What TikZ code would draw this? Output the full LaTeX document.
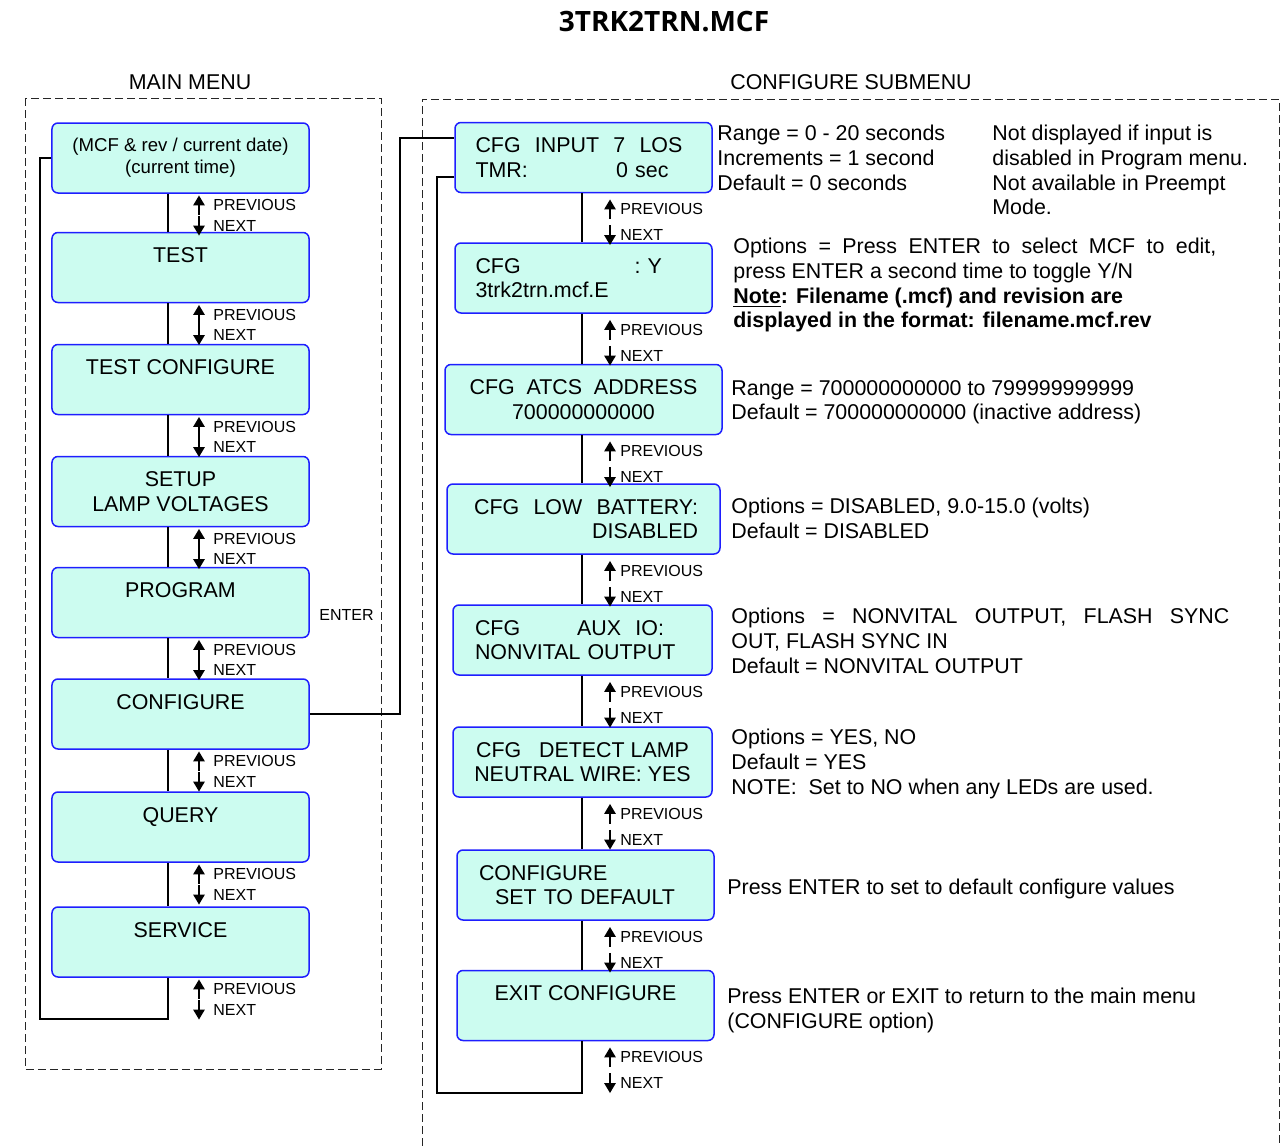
\documentclass[tikz,border=0pt]{standalone}
\usepackage{fontspec}
\setmainfont{Liberation Sans}
\newfontfamily\titlefont{Open Sans}
\usepackage{xcolor}
\usepackage{tikz}
\usetikzlibrary{positioning,calc,arrows.meta}
\definecolor{boxfill}{RGB}{204,252,240}
\definecolor{boxline}{RGB}{30,30,255}

\begin{document}
\begin{tikzpicture}[x=50pt,y=-50pt,font=\fontsize{10.7}{12.3}\selectfont,
 mb/.style={draw=boxline,fill=boxfill,line width=0.75pt,rounded corners=3pt,minimum width=128.5pt,minimum height=35pt,inner sep=0pt,align=center},
 cb/.style={mb},
 ln/.style={line width=0.65pt},
 nv/.style={font=\fontsize{8}{9.6}\selectfont,inner sep=0pt,minimum height=9.5pt,anchor=west},
 ud/.style={line width=1.2pt,-{Triangle[length=5pt,width=5.5pt]}},
 fr/.style={black!85,line width=0.5pt,dash pattern=on 4pt off 2pt},
 nt/.style={anchor=north west,inner sep=0pt,align=left}]
\useasboundingbox (0,0) rectangle (12.81,11.46);
\coordinate (mloop) at (0.40,10.19);
\coordinate (mbot) at (1.68,10.19);
\coordinate (cin) at (4.00,1.38);
\coordinate (cup) at (4.37,1.77);
\coordinate (cloop) at (4.37,10.93);
\coordinate (cbot) at (5.82,10.93);
\node[font=\titlefont\bfseries\fontsize{14}{16}\selectfont] (ttl) at (6.64,0.22) {3TRK2TRN.MCF};
\node (mm) at (1.90,0.82) {MAIN MENU};
\node (cs) at (8.51,0.82) {CONFIGURE SUBMENU};
\draw[fr] (0.25,0.98) rectangle (3.81,10.69);
\draw[fr] (4.22,11.46) -- (4.22,0.99) -- (12.79,0.99) -- (12.79,11.46);
\node[mb,font=\fontsize{9.3}{11}\selectfont] (m1) at (1.805,1.58) {(MCF \& rev / current date)\\(current time)};
\node[mb] (m2) at (1.805,2.675) {TEST\\\mbox{}};
\node[mb] (m3) at (1.805,3.795) {TEST CONFIGURE\\\mbox{}};
\node[mb] (m4) at (1.805,4.915) {SETUP\\LAMP VOLTAGES};
\node[mb] (m5) at (1.805,6.025) {PROGRAM\\\mbox{}};
\node[mb] (m6) at (1.805,7.14) {CONFIGURE\\\mbox{}};
\node[mb] (m7) at (1.805,8.27) {QUERY\\\mbox{}};
\node[mb] (m8) at (1.805,9.42) {SERVICE\\\mbox{}};
\node[cb,text width=108pt,align=left] (c1) at (5.835,1.575) {CFG\ \ INPUT\ \ 7\ \ LOS\\TMR:\hfill 0 sec\kern11.5pt};
\node[cb,text width=108pt,align=left] (c2) at (5.835,2.78) {CFG\hfill : Y\kern14.75pt\\3trk2trn.mcf.E};
\node[cb,minimum width=138.5pt] (c3) at (5.835,3.995) {CFG\ \ ATCS\ \ ADDRESS\\700000000000};
\node[cb,minimum width=136.5pt,text width=114.5pt,align=right] (c4) at (5.835,5.19) {CFG\ \ LOW\ \ BATTERY:\\DISABLED};
\node[cb,minimum width=129.5pt,text width=107.5pt,align=left] (c5) at (5.825,6.40) {CFG\hfill AUX\ \ IO:\kern13pt\\NONVITAL OUTPUT};
\node[cb,minimum width=129.5pt] (c6) at (5.825,7.62) {CFG\ \ \ DETECT LAMP\\NEUTRAL WIRE: YES};
\node[cb,text width=106.5pt,align=left] (c7) at (5.855,8.85) {CONFIGURE\\\hspace*{8pt}SET TO DEFAULT};
\node[cb] (c8) at (5.855,10.055) {EXIT CONFIGURE\\\mbox{}};
\foreach \a/\b in {m1/m2,m2/m3,m3/m4,m4/m5,m5/m6,m6/m7,m7/m8}
  \draw[ln] (\a.south -| mbot) -- (\b.north -| mbot);
\foreach \a/\b in {c1/c2,c2/c3,c3/c4,c4/c5,c5/c6,c6/c7,c7/c8}
  \draw[ln] (\a.south -| cbot) -- (\b.north -| cbot);
\foreach \i in {1,...,8}{
  \node[nv] (mp\i) at ($(m\i.south)+(0.325,0.115)$) {PREVIOUS};
  \node[nv] (mn\i) at ($(m\i.south)+(0.325,0.32)$) {NEXT};
  \draw[ud] ([xshift=-7pt]mp\i.south west) -- ([xshift=-7pt]mp\i.north west);
  \draw[ud] ([xshift=-7pt]mn\i.north west) -- ([xshift=-7pt]mn\i.south west);
  \node[nv] (cp\i) at ($(c\i.south -| cbot)+(0.38,0.16)$) {PREVIOUS};
  \node[nv] (cn\i) at ($(c\i.south -| cbot)+(0.38,0.42)$) {NEXT};
  \draw[ud] ([xshift=-5pt]cp\i.south west) -- ([xshift=-5pt]cp\i.north west);
  \draw[ud] ([xshift=-5pt]cn\i.north west) -- ([xshift=-5pt]cn\i.south west);
}
\draw[ln] (m1.west) -| (mloop) -- (mbot) -- (m8.south -| mbot);
\draw[ln] (m6.east) -| (cin) -- (cin -| c1.west);
\draw[ln] (cup -| c1.west) -- (cup) -- (cloop) -- (cbot) -- (c8.south -| cbot);
\node[nv] (ent) at (3.19,6.15) {ENTER};
\node[nt] (n1) at (7.17,1.25) {Range = 0 - 20 seconds\\Increments = 1 second\\Default = 0 seconds};
\node[nt] (n1b) at (9.92,1.25) {Not displayed if input is\\disabled in Program menu.\\Not available in Preempt\\Mode.};
\node[nt] (n2) at (7.33,2.38) {\makebox[241.5pt][s]{Options = Press ENTER to select MCF to edit,}\\press ENTER a second time to toggle Y/N\\\textbf{\underline{Note}: Filename (.mcf) and revision are}\\\textbf{displayed in the format: filename.mcf.rev}};
\node[nt] (n3) at (7.31,3.80) {Range = 700000000000 to 799999999999\\Default = 700000000000 (inactive address)};
\node[nt] (n4) at (7.31,4.98) {Options = DISABLED, 9.0-15.0 (volts)\\Default = DISABLED};
\node[nt] (n5) at (7.31,6.08) {\makebox[249pt][s]{Options = NONVITAL OUTPUT, FLASH SYNC}\\OUT, FLASH SYNC IN\\Default = NONVITAL OUTPUT};
\node[nt] (n6) at (7.31,7.29) {Options = YES, NO\\Default = YES\\NOTE:\ \ Set to NO when any LEDs are used.};
\node[nt] (n7) at (7.27,8.79) {Press ENTER to set to default configure values};
\node[nt] (n8) at (7.27,9.88) {Press ENTER or EXIT to return to the main menu\\(CONFIGURE option)};
\end{tikzpicture}
\end{document}
